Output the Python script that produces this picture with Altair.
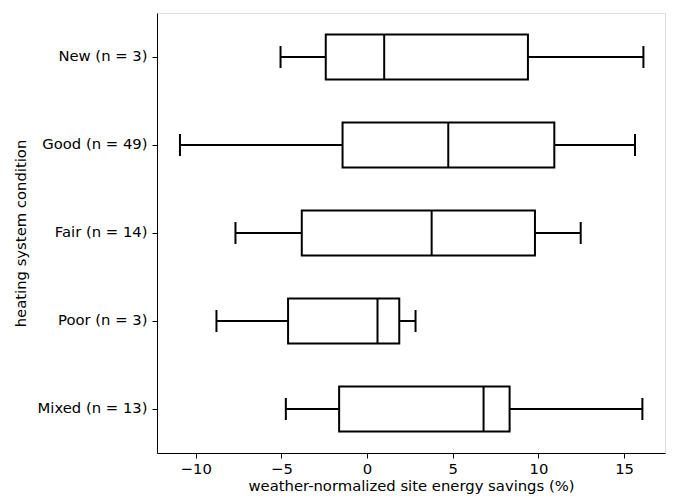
import altair as alt
import pandas as pd

categories = ["New (n = 3)", "Good (n = 49)", "Fair (n = 14)", "Poor (n = 3)", "Mixed (n = 13)"]
whisker_low = [-5.05, -10.92, -7.68, -8.79, -4.74]
q1 = [-2.41, -1.43, -3.81, -4.61, -1.63]
median = [1.00, 4.74, 3.77, 0.61, 6.80]
q3 = [9.39, 10.93, 9.80, 1.88, 8.32]
whisker_high = [16.13, 15.64, 12.47, 2.83, 16.07]

df = pd.DataFrame({
    "cat": categories,
    "lo": whisker_low,
    "q1": q1,
    "med": median,
    "q3": q3,
    "hi": whisker_high,
})

FONT = "DejaVu Sans"
FS = 14.8
xscale = alt.Scale(domain=[-12.26, 17.39], nice=False, zero=False)
yscale = alt.Scale(domain=categories, paddingInner=0, paddingOuter=0)

y_enc = alt.Y("cat:N", scale=yscale, sort=categories,
              axis=alt.Axis(title="heating system condition", labelFontSize=FS,
                            titleFontSize=FS, labelFont=FONT, titleFont=FONT,
                            tickSize=5, labelPadding=5, titlePadding=9,
                            domainColor="black", tickColor="black", labelColor="black",
                            titleColor="black", titleFontWeight="normal", labelLimit=300))
x_axis = alt.Axis(title="weather-normalized site energy savings (%)", values=[-10, -5, 0, 5, 10, 15],
                  labelFontSize=FS, titleFontSize=FS, labelFont=FONT, titleFont=FONT,
                  tickSize=5, labelPadding=3, titlePadding=3, grid=False,
                  domainColor="black", tickColor="black", labelColor="black",
                  titleColor="black", titleFontWeight="normal",
                  labelExpr="replace(format(datum.value, 'd'), '-', '\u2212')")

base = alt.Chart(df)

whisk_lo = base.mark_rule(color="black", strokeWidth=2).encode(
    x=alt.X("lo:Q", scale=xscale, axis=x_axis), x2="q1:Q", y=y_enc)
whisk_hi = base.mark_rule(color="black", strokeWidth=2).encode(
    x=alt.X("q3:Q", scale=xscale), x2="hi:Q", y=y_enc)
box = base.mark_bar(fill="white", stroke="black", strokeWidth=2, size=45).encode(
    x=alt.X("q1:Q", scale=xscale), x2="q3:Q", y=y_enc)
med = base.mark_tick(color="black", thickness=2, size=45, orient="vertical", opacity=1).encode(
    x=alt.X("med:Q", scale=xscale), y=y_enc)
cap_lo = base.mark_tick(color="black", thickness=2, size=22, orient="vertical", opacity=1).encode(
    x=alt.X("lo:Q", scale=xscale), y=y_enc)
cap_hi = base.mark_tick(color="black", thickness=2, size=22, orient="vertical", opacity=1).encode(
    x=alt.X("hi:Q", scale=xscale), y=y_enc)

chart = alt.layer(whisk_lo, whisk_hi, box, med, cap_lo, cap_hi).properties(
    width=508, height=440
).configure_view(stroke="black", strokeWidth=1).configure(background="white")

chart.save("out.html", embed_options={"renderer": "svg", "actions": False})
